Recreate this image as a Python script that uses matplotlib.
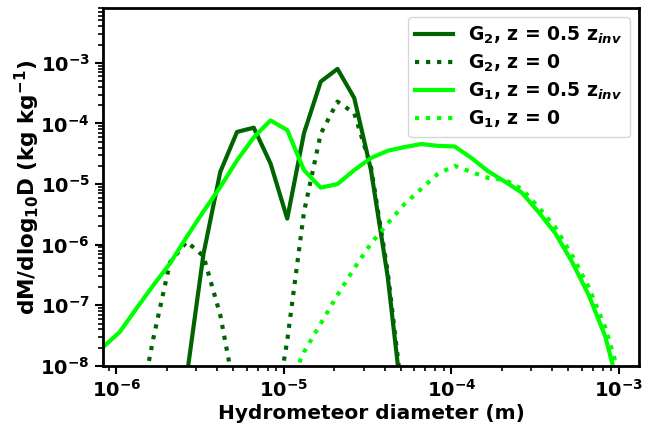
import numpy as np
import matplotlib
matplotlib.use("Agg")
from matplotlib import pyplot as plt

plt.rcParams.update({
    "font.family": "DejaVu Sans",
    "font.weight": "bold",
    "axes.labelweight": "bold",
    "mathtext.fontset": "custom",
    "mathtext.rm": "DejaVu Sans:bold",
    "mathtext.bf": "DejaVu Sans:bold",
    "mathtext.it": "DejaVu Sans:italic:bold",
})

# diameters on a log grid (log10 m)
log_d = [-6.08, -5.98, -5.88, -5.78, -5.68, -5.58, -5.48, -5.38, -5.28, -5.18,
         -5.08, -4.98, -4.88, -4.78, -4.68, -4.58, -4.48, -4.38, -4.28, -4.18,
         -4.08, -3.98, -3.88, -3.78, -3.68, -3.58, -3.48, -3.38, -3.28, -3.18,
         -3.08, -2.98, -2.88]
diameter = [10 ** v for v in log_d]

# log10 of dM/dlog10D (kg/kg)
g2_half = [-12, -12, -12, -12, -10.0, -8.17, -6.15, -4.80, -4.14, -4.07,
           -4.66, -5.57, -4.16, -3.31, -3.10, -3.58, -4.77, -6.53, -8.94, -12,
           -12, -12, -12, -12, -12, -12, -12, -12, -12, -12,
           -12, -12, -12]
g2_surf = [-12, -12, -8.98, -7.55, -6.29, -5.95, -6.19, -7.16, -8.63, -12,
           -9.26, -7.58, -5.46, -4.17, -3.64, -3.83, -4.72, -6.45, -8.8, -12,
           -12, -12, -12, -12, -12, -12, -12, -12, -12, -12,
           -12, -12, -12]
g1_half = [-7.69, -7.44, -7.05, -6.67, -6.31, -5.87, -5.45, -5.05, -4.61, -4.23,
           -3.95, -4.11, -4.77, -5.06, -5.00, -4.77, -4.57, -4.45, -4.39, -4.34,
           -4.37, -4.38, -4.57, -4.79, -4.96, -5.14, -5.46, -5.81, -6.28, -6.83,
           -7.52, -8.6, -11]
g1_surf = [-12, -12, -12, -12, -12, -12, -12, -12, -12, -12,
           -12, -8.39, -7.77, -7.30, -6.83, -6.39, -5.98, -5.65, -5.33, -5.08,
           -4.83, -4.70, -4.80, -4.90, -4.93, -5.08, -5.38, -5.71, -6.17, -6.70,
           -7.37, -8.3, -11]

dark = "#006400"
light = "#00ff00"

fig = plt.figure(figsize=(6.48, 4.25), dpi=100)
ax = fig.add_axes([0.159, 0.139, 0.827, 0.842])

ax.plot(diameter, np.power(10.0, g2_half), color=dark, lw=3, label=r"G$_2$, z = 0.5 z$_{inv}$")
ax.plot(diameter, np.power(10.0, g2_surf), color=dark, lw=3, ls=":", label=r"G$_2$, z = 0")
ax.plot(diameter, np.power(10.0, g1_half), color=light, lw=3, label=r"G$_1$, z = 0.5 z$_{inv}$")
ax.plot(diameter, np.power(10.0, g1_surf), color=light, lw=3, ls=":", label=r"G$_1$, z = 0")

ax.set_xscale("log")
ax.set_yscale("log")
ax.set_xlim(diameter[0], diameter[-1])
ax.set_ylim(1e-8, 8e-3)

ax.set_xlabel("Hydrometeor diameter (m)", fontsize=14.5, labelpad=2)
ax.set_ylabel(r"dM/dlog$_{10}$D (kg kg$^{-1}$)", fontsize=15.5, labelpad=-1)
ax.tick_params(which="major", labelsize=14, width=1.5, length=6)
ax.tick_params(which="minor", width=1.2, length=3.5)
for s in ax.spines.values():
    s.set_linewidth(2)

ax.legend(loc="upper right", prop={"weight": "bold", "size": 13.5}, labelspacing=0.35)

fig.savefig("out.png", dpi=100)
